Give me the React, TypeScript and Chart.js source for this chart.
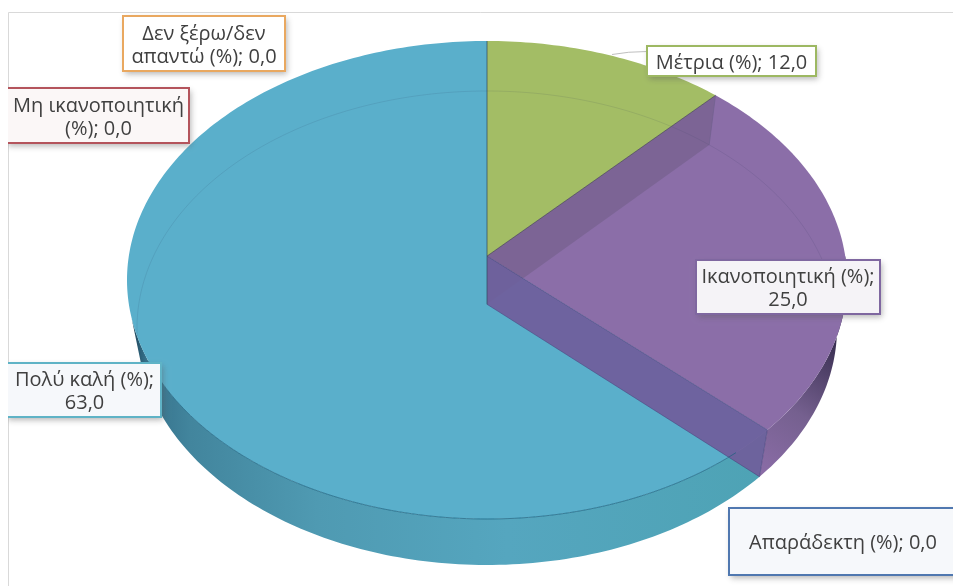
import React, { useEffect, useRef } from "react";
import { Chart, registerables } from "chart.js";

Chart.register(...registerables);

const categories = [
  "Απαράδεκτη (%)",
  "Μη ικανοποιητική (%)",
  "Μέτρια (%)",
  "Ικανοποιητική (%)",
  "Πολύ καλή (%)",
  "Δεν ξέρω/δεν απαντώ (%)",
];
const values = [0, 0, 12, 25, 63, 0];
const faceColors = ["#4F81BD", "#C0504D", "#A3BD65", "#8B6EA8", "#5AAFCB", "#F79646"];

const labelLines = [
  ["Απαράδεκτη (%); 0,0"],
  ["Μη ικανοποιητική", "(%); 0,0"],
  ["Μέτρια (%); 12,0"],
  ["Ικανοποιητική (%);", "25,0"],
  ["Πολύ καλή (%);", "63,0"],
  ["Δεν ξέρω/δεν", "απαντώ (%); 0,0"],
];
// x, y, w, h of each label box
const labelBoxes = [
  [729, 508, 240, 67],
  [6, 88, 183, 55],
  [647, 46, 169, 30],
  [696, 260, 184, 54],
  [6, 363, 155, 54],
  [123, 16, 162, 55],
];
const labelBorders = ["#5078B0", "#B4545C", "#9DB862", "#7F67A0", "#5FB3C6", "#E9A860"];
const labelFills = ["#F6F8FB", "#FBF7F7", "#FFFFFF", "#F5F3F7", "#F6F8FB", "#FFFFFF"];

const TOP = { cx: 487, cy: 280, rx: 360, ry: 239 };
const BOTTOM = { cx: 487, cy: 328, rx: 350, ry: 237 };
const K = 0.1;

type Face = typeof TOP;

// Perspective projection of a point of the unit disc onto a pie face.
function project(f: Face, x: number, y: number): [number, number] {
  const d = 1 + K * y;
  const px = (x * Math.sqrt(1 - K * K)) / d;
  const py = (y + K) / d;
  return [f.cx + f.rx * px, f.cy - f.ry * py];
}
// theta: clockwise from 12 o'clock
const rim = (f: Face, theta: number) => project(f, Math.sin(theta), Math.cos(theta));
const centre = (f: Face) => project(f, 0, 0);

function rimPoints(f: Face, a: number, b: number): [number, number][] {
  const n = Math.max(2, Math.ceil((Math.abs(b - a) / Math.PI) * 180));
  const pts: [number, number][] = [];
  for (let i = 0; i <= n; i++) pts.push(rim(f, a + ((b - a) * i) / n));
  return pts;
}

const pie3d = {
  id: "pie3d",
  beforeDraw(chart: any) {
    const c = chart.ctx;
    c.save();
    c.fillStyle = "#FFFFFF";
    c.fillRect(0, 0, chart.width, chart.height);
    c.strokeStyle = "#D9D9D9";
    c.lineWidth = 1;
    c.beginPath();
    c.moveTo(8.5, chart.height);
    c.lineTo(8.5, 12.5);
    c.lineTo(chart.width, 12.5);
    c.stroke();
    c.restore();
  },
  beforeDatasetsDraw(chart: any) {
    const c: CanvasRenderingContext2D = chart.ctx;
    const arcs = chart.getDatasetMeta(0).data as any[];
    const angle = (a: any) => {
      const p = a.getProps(["startAngle", "endAngle"], true);
      return [p.startAngle + Math.PI / 2, p.endAngle + Math.PI / 2];
    };
    const [greenA] = angle(arcs[2]);
    const [purpleA, purpleB] = angle(arcs[3]);
    const [blueA, blueB] = angle(arcs[4]);

    c.save();
    const poly = (pts: [number, number][]) => {
      c.beginPath();
      pts.forEach((p, i) => (i ? c.lineTo(p[0], p[1]) : c.moveTo(p[0], p[1])));
      c.closePath();
    };

    // outer cylinder sides
    const blueGrad = c.createLinearGradient(127, 0, 760, 0);
    blueGrad.addColorStop(0, "#17384A");
    blueGrad.addColorStop(0.03, "#35708A");
    blueGrad.addColorStop(0.1, "#42859D");
    blueGrad.addColorStop(0.3, "#4F9AB2");
    blueGrad.addColorStop(0.6, "#55A6BF");
    blueGrad.addColorStop(1, "#4EA3B5");
    c.fillStyle = blueGrad;
    const blueSideEnd = blueA + (Math.PI * 122) / 180;
    poly([...rimPoints(TOP, blueA, blueSideEnd), ...rimPoints(BOTTOM, blueSideEnd, blueA)]);
    c.fill();

    const purpleGrad = c.createLinearGradient(758, 470, 842, 340);
    purpleGrad.addColorStop(0, "#8A6CA6");
    purpleGrad.addColorStop(0.45, "#75608F");
    purpleGrad.addColorStop(1, "#362C4E");
    c.fillStyle = purpleGrad;
    poly([...rimPoints(TOP, Math.PI / 2, purpleB), ...rimPoints(BOTTOM, purpleB, Math.PI / 2)]);
    c.fill();

    // top faces
    const apex = centre(TOP);
    arcs.forEach((a, i) => {
      const [s, e] = angle(a);
      if (e - s < 1e-6) return;
      c.fillStyle = faceColors[i];
      poly([apex, ...rimPoints(TOP, s, e)]);
      c.fill();
    });

    // the far rim of the base, seen through the faces
    c.strokeStyle = "rgba(40,50,80,0.11)";
    c.lineWidth = 1;
    const back = rimPoints(BOTTOM, blueB - (Math.PI * 5) / 9, blueB + Math.PI / 2);
    c.beginPath();
    back.forEach((p, i) => (i ? c.lineTo(p[0], p[1]) : c.moveTo(p[0], p[1])));
    c.stroke();

    // inner wall behind the purple slice
    const apexB = centre(BOTTOM);
    const gp = rim(TOP, purpleA);
    const gpB = rim(BOTTOM, purpleA);
    c.fillStyle = "rgba(90,80,105,0.30)";
    poly([apex, gp, gpB, apexB]);
    c.fill();

    // front wall of the purple slice
    const pb = rim(TOP, purpleB);
    const pbB = rim(BOTTOM, purpleB);
    c.fillStyle = "rgba(112,94,155,0.93)";
    poly([apex, pb, pbB, apexB]);
    c.fill();
    c.strokeStyle = "rgba(70,60,120,0.5)";
    c.beginPath();
    c.moveTo(apexB[0], apexB[1]);
    c.lineTo(pbB[0], pbB[1]);
    c.moveTo(apex[0], apex[1]);
    c.lineTo(pb[0], pb[1]);
    c.moveTo(pb[0], pb[1]);
    c.lineTo(pbB[0], pbB[1]);
    c.stroke();

    // slice edges
    c.strokeStyle = "rgba(50,75,100,0.75)";
    c.beginPath();
    const top0 = rim(TOP, greenA);
    c.moveTo(top0[0], top0[1]);
    c.lineTo(apex[0], apex[1]);
    c.lineTo(apexB[0], apexB[1]);
    c.stroke();
    c.strokeStyle = "rgba(70,75,70,0.7)";
    c.beginPath();
    c.moveTo(apex[0], apex[1]);
    c.lineTo(gp[0], gp[1]);
    c.stroke();
    c.strokeStyle = "rgba(110,95,140,0.6)";
    c.beginPath();
    c.moveTo(gp[0], gp[1]);
    c.lineTo(gpB[0], gpB[1]);
    c.stroke();

    // near rim of the blue face
    c.strokeStyle = "rgba(25,95,125,0.7)";
    const near = rimPoints(TOP, blueA + 0.12, blueA + Math.PI * 0.62);
    c.beginPath();
    near.forEach((p, i) => (i ? c.lineTo(p[0], p[1]) : c.moveTo(p[0], p[1])));
    c.stroke();

    // leader line of the green label
    c.strokeStyle = "#BFBFBF";
    c.beginPath();
    c.moveTo(647, 51.5);
    c.quadraticCurveTo(628, 51.5, 612, 54.5);
    c.stroke();

    // labels
    c.font = '20px "Open Sans"';
    c.textAlign = "center";
    c.textBaseline = "middle";
    categories.forEach((_, i) => {
      const [x, y, w, h] = labelBoxes[i];
      const clipped = x < 8;
      c.save();
      if (clipped) {
        c.beginPath();
        c.rect(8, 0, 953, 586);
        c.clip();
      }
      c.save();
      c.shadowColor = "rgba(90,90,90,0.45)";
      c.shadowBlur = 6;
      c.shadowOffsetX = 2;
      c.shadowOffsetY = 3;
      c.fillStyle = labelFills[i];
      c.fillRect(x, y, w, h);
      c.restore();
      c.strokeStyle = labelBorders[i];
      c.lineWidth = 2;
      c.strokeRect(x, y, w, h);
      c.restore();
      c.fillStyle = "#404040";
      const lines = labelLines[i];
      const textX = i === 0 ? 843 : x + w / 2 + (clipped ? 1 : 0);
      lines.forEach((t, j) => {
        c.fillText(t, textX, y + h / 2 + 2 + (j - (lines.length - 1) / 2) * 23);
      });
    });
    c.restore();
    return false;
  },
};

export default function App() {
  const ref = useRef<HTMLCanvasElement>(null);
  useEffect(() => {
    const chart = new Chart(ref.current as HTMLCanvasElement, {
      type: "pie",
      data: {
        labels: categories,
        datasets: [{ data: values, backgroundColor: faceColors }],
      },
      options: {
        responsive: false,
        animation: false,
        plugins: { legend: { display: false }, tooltip: { enabled: false } },
      },
      plugins: [pie3d],
    } as any);
    return () => chart.destroy();
  }, []);
  return (
    <div style={{ position: "absolute", left: 0, top: 0, width: 953, height: 586, overflow: "hidden" }}>
      <canvas ref={ref} width={953} height={586} style={{ display: "block" }} />
    </div>
  );
}
